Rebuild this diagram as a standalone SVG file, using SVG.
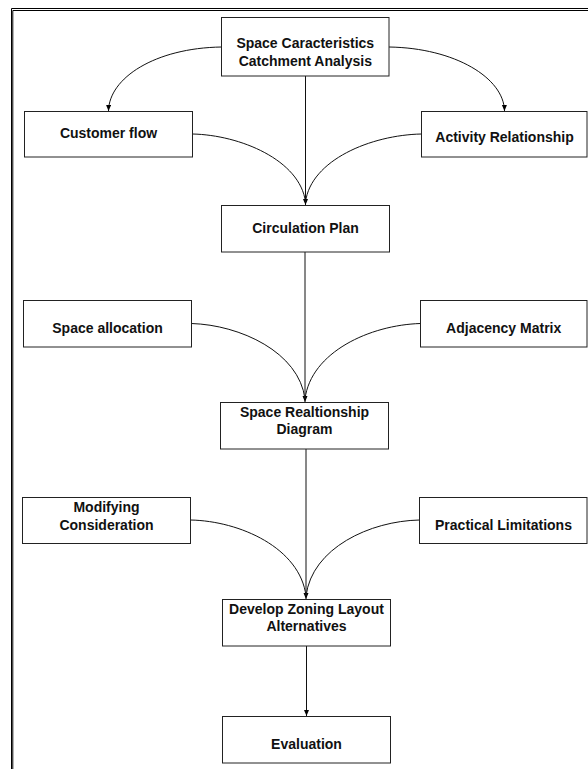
<svg xmlns="http://www.w3.org/2000/svg" width="588" height="769" viewBox="0 0 588 769">
<style>
.box{fill:#fff;stroke:#222;stroke-width:1}
.t{font-family:"Liberation Sans",Arial,sans-serif;font-weight:bold;font-size:14px;fill:#111;text-anchor:middle}
.c{fill:none;stroke:#111;stroke-width:1}
.frame{fill:none;stroke:#000;stroke-width:1}
</style>
<defs>
<marker id="ah" markerUnits="userSpaceOnUse" markerWidth="7" markerHeight="6" refX="6" refY="2.5" orient="auto">
<path d="M0,0 L6,2.5 L0,5 z" fill="#000"/>
</marker>
</defs>
<g id="frame">
<path class="frame" d="M11.5,769 V8.5 H588"/>
<path class="frame" d="M12.8,769 V10.5 H588" stroke-width="1.4"/>
</g>
<g id="connectors">
<path class="c" d="M221.5,47 C155,48 109,78 108.5,111" marker-end="url(#ah)"/>
<path class="c" d="M389,47 C455,48 504,78 504.5,111" marker-end="url(#ah)"/>
<path class="c" d="M305.5,76 V205" marker-end="url(#ah)"/>
<path class="c" d="M192.5,134 C240,135 300,160 305.5,202"/>
<path class="c" d="M421.5,134 C371,135 311,160 305.5,202"/>
<path class="c" d="M305,252 V402" marker-end="url(#ah)"/>
<path class="c" d="M191.5,323.5 C240,325 299,352 305,399"/>
<path class="c" d="M420.5,323.5 C370,325 311,352 305,399"/>
<path class="c" d="M306,449 V599" marker-end="url(#ah)"/>
<path class="c" d="M190.5,520 C240,521 300,548 306,596"/>
<path class="c" d="M419.5,520 C370,521 312,548 306,596"/>
<path class="c" d="M306.5,646 V716" marker-end="url(#ah)"/>
</g>
<g id="n-space-char">
<rect class="box" x="221.5" y="17.5" width="167.5" height="58.5"/>
<text class="t" x="305.3" y="47.5">Space Caracteristics</text>
<text class="t" x="305.3" y="65.5">Catchment Analysis</text>
</g>
<g id="n-customer-flow">
<rect class="box" x="24.5" y="111.5" width="168" height="45.5"/>
<text class="t" x="108.5" y="137.8">Customer flow</text>
</g>
<g id="n-activity">
<rect class="box" x="421.5" y="111.5" width="165.5" height="45.5"/>
<text class="t" x="504.5" y="141.8">Activity Relationship</text>
</g>
<g id="n-circulation">
<rect class="box" x="221.5" y="205.5" width="168" height="46.5"/>
<text class="t" x="305.5" y="232.8">Circulation Plan</text>
</g>
<g id="n-space-allocation">
<rect class="box" x="23.5" y="300.5" width="168" height="46.5"/>
<text class="t" x="107.5" y="332.8">Space allocation</text>
</g>
<g id="n-adjacency">
<rect class="box" x="420.5" y="300.5" width="166.5" height="46.5"/>
<text class="t" x="503.7" y="332.8">Adjacency Matrix</text>
</g>
<g id="n-srd">
<rect class="box" x="220.5" y="402.5" width="168" height="46.5"/>
<text class="t" x="304.5" y="416.8">Space Realtionship</text>
<text class="t" x="304.5" y="434">Diagram</text>
</g>
<g id="n-modifying">
<rect class="box" x="22.5" y="497.5" width="168" height="46"/>
<text class="t" x="106.5" y="511.8">Modifying</text>
<text class="t" x="106.5" y="529.5">Consideration</text>
</g>
<g id="n-practical">
<rect class="box" x="419.5" y="497.5" width="167.5" height="46"/>
<text class="t" x="503.5" y="529.5">Practical Limitations</text>
</g>
<g id="n-develop">
<rect class="box" x="222.5" y="599.5" width="168" height="46.5"/>
<text class="t" x="306.5" y="614">Develop Zoning Layout</text>
<text class="t" x="306.5" y="631.3">Alternatives</text>
</g>
<g id="n-evaluation">
<rect class="box" x="222.5" y="716.5" width="168" height="46.5"/>
<text class="t" x="306.5" y="748.5">Evaluation</text>
</g>
</svg>
